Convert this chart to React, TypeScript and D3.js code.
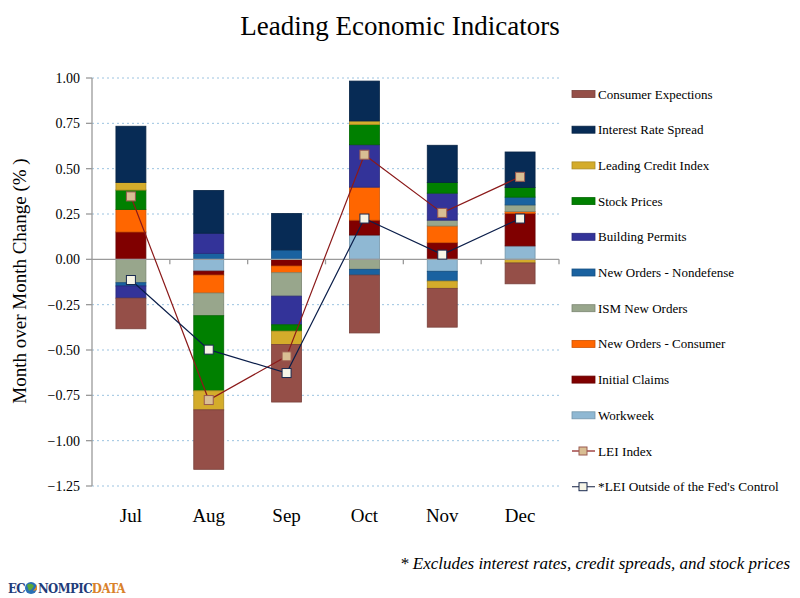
import * as d3 from "d3";

const months = ["Jul", "Aug", "Sep", "Oct", "Nov", "Dec"];

// component contributions, stack order from zero outward
const workweek = [0, -0.065, 0, 0.134, -0.066, 0.074];
const initialClaims = [0.151, -0.022, -0.037, 0.082, 0.092, 0.18];
const newOrdersConsumer = [0.124, -0.099, -0.037, 0.182, 0.092, 0.01];
const ismNewOrders = [-0.129, -0.125, -0.129, -0.055, 0.032, 0.036];
const newOrdersNondefense = [-0.018, 0.033, 0.052, -0.032, -0.054, 0.043];
const buildingPermits = [-0.067, 0.111, -0.158, 0.234, 0.149, 0];
const stockPrices = [0.107, -0.414, -0.035, 0.111, 0.059, 0.053];
const leadingCredit = [0.042, -0.105, -0.074, 0.02, -0.04, -0.02];
const interestRateSpread = [0.31, 0.236, 0.201, 0.22, 0.205, 0.196];
const consumerExpectations = [-0.169, -0.328, -0.317, -0.319, -0.214, -0.115];

const leiIndex = [0.347, -0.776, -0.535, 0.577, 0.256, 0.455];
const leiOutside = [-0.114, -0.498, -0.627, 0.225, 0.026, 0.225];

const yTicks = [1, 0.75, 0.5, 0.25, 0, -0.25, -0.5, -0.75, -1, -1.25];

const series = [
  { key: "workweek", name: "Workweek", values: workweek, color: "#8fb8d3" },
  { key: "initialClaims", name: "Initial Claims", values: initialClaims, color: "#800000" },
  { key: "newOrdersConsumer", name: "New Orders - Consumer", values: newOrdersConsumer, color: "#ff6600" },
  { key: "ismNewOrders", name: "ISM New Orders", values: ismNewOrders, color: "#98a68c" },
  { key: "newOrdersNondefense", name: "New Orders - Nondefense", values: newOrdersNondefense, color: "#1a62a0" },
  { key: "buildingPermits", name: "Building Permits", values: buildingPermits, color: "#333399" },
  { key: "stockPrices", name: "Stock Prices", values: stockPrices, color: "#008000" },
  { key: "leadingCredit", name: "Leading Credit Index", values: leadingCredit, color: "#d4ac2b" },
  { key: "interestRateSpread", name: "Interest Rate Spread", values: interestRateSpread, color: "#072b55" },
  { key: "consumerExpectations", name: "Consumer Expections", values: consumerExpectations, color: "#954f48" },
];

const FONT = "'Liberation Serif', 'DejaVu Serif', serif";

export default function App() {
  const width = 800;
  const height = 598;

  const x = d3
    .scaleBand<string>()
    .domain(months)
    .range([92, 559])
    .paddingInner(0.615)
    .paddingOuter(0.3075);

  const y = d3.scaleLinear().domain([-1.25, 1]).range([486, 78]);

  const rows = months.map((m, i) => {
    const r: Record<string, any> = { month: m };
    series.forEach((s) => (r[s.key] = s.values[i]));
    return r;
  });

  const stacked = d3
    .stack<Record<string, any>>()
    .keys(series.map((s) => s.key))
    .offset(d3.stackOffsetDiverging)(rows);

  const cx = (m: string) => (x(m) ?? 0) + x.bandwidth() / 2;

  const line = d3
    .line<number>()
    .x((_, i) => cx(months[i]))
    .y((d) => y(d));

  const legendItems = [...series].reverse();
  const legendY = (i: number) => 94 + i * 35.7;

  const boundaries = months.map((m) => (x(m) ?? 0) - (x.step() - x.bandwidth()) / 2).concat([559]);

  return (
    <svg
      width={width}
      height={height}
      style={{ position: "absolute", left: 0, top: 0, background: "#fff" }}
      fontFamily={FONT}
    >
      <rect width={width} height={height} fill="#fff" />
      <text x={400} y={35} textAnchor="middle" fontSize={27} fill="#000">
        Leading Economic Indicators
      </text>

      {/* gridlines */}
      {yTicks
        .filter((t) => t !== 0)
        .map((t) => (
          <line
            key={t}
            x1={92}
            x2={559}
            y1={y(t)}
            y2={y(t)}
            stroke="#9cc3e0"
            strokeDasharray="2,3"
            strokeWidth={1}
          />
        ))}

      {/* y axis */}
      <line x1={92} x2={92} y1={y(1)} y2={y(-1.25)} stroke="#9a9a9a" strokeWidth={1.3} />
      {yTicks.map((t) => (
        <g key={t}>
          <line x1={86} x2={92} y1={y(t)} y2={y(t)} stroke="#9a9a9a" strokeWidth={1.3} />
          <text x={80} y={y(t)} dy="0.35em" textAnchor="end" fontSize={14} fill="#000">
            {d3.format(".2f")(t)}
          </text>
        </g>
      ))}
      <text
        transform={`translate(26,281) rotate(-90)`}
        textAnchor="middle"
        fontSize={19}
        fill="#000"
      >
        Month over Month Change (% )
      </text>

      {/* bars */}
      {stacked.map((layer, li) => (
        <g key={layer.key} fill={series[li].color} stroke={d3.color(series[li].color)!.darker(0.6).formatHex()}>
          {layer.map((d, i) =>
            d[1] - d[0] === 0 ? null : (
              <rect
                key={i}
                x={x(months[i])}
                width={x.bandwidth()}
                y={y(d[1])}
                height={y(d[0]) - y(d[1])}
                strokeWidth={0.8}
              />
            )
          )}
        </g>
      ))}

      {/* zero axis */}
      <line x1={92} x2={559} y1={y(0)} y2={y(0)} stroke="#9a9a9a" strokeWidth={1.3} />
      {boundaries.slice(1).map((b, i) => (
        <line key={i} x1={b} x2={b} y1={y(0)} y2={y(0) + 5} stroke="#9a9a9a" strokeWidth={1.3} />
      ))}

      {/* month labels */}
      {months.map((m) => (
        <text key={m} x={cx(m)} y={522} textAnchor="middle" fontSize={19} fill="#000">
          {m}
        </text>
      ))}

      {/* LEI lines */}
      <path d={line(leiIndex) ?? ""} fill="none" stroke="#8b1a1a" strokeWidth={1.2} />
      <path d={line(leiOutside) ?? ""} fill="none" stroke="#0b1e4a" strokeWidth={1.2} />
      {leiIndex.map((v, i) => (
        <rect
          key={"a" + i}
          x={cx(months[i]) - 4.5}
          y={y(v) - 4.5}
          width={9}
          height={9}
          fill="#d9be93"
          stroke="#9a5a50"
          strokeWidth={1}
        />
      ))}
      {leiOutside.map((v, i) => (
        <rect
          key={"b" + i}
          x={cx(months[i]) - 4.5}
          y={y(v) - 4.5}
          width={9}
          height={9}
          fill="#f7f5e6"
          stroke="#1a2a50"
          strokeWidth={1}
        />
      ))}

      {/* legend */}
      {legendItems.map((s, i) => (
        <g key={s.key} transform={`translate(572,${legendY(i)})`}>
          <rect
            x={0}
            y={-3.5}
            width={23}
            height={7}
            fill={s.color}
            stroke={d3.color(s.color)!.darker(0.6).formatHex()}
            strokeWidth={0.8}
          />
          <text x={26} y={0} dy="0.35em" fontSize={13} fill="#000">
            {s.name}
          </text>
        </g>
      ))}
      {[
        { name: "LEI Index", line: "#8b1a1a", fill: "#d9be93", stroke: "#9a5a50" },
        { name: "*LEI Outside of the Fed's Control", line: "#3a4560", fill: "#f7f5e6", stroke: "#1a2a50" },
      ].map((l, j) => (
        <g key={l.name} transform={`translate(572,${legendY(series.length + j)})`}>
          <line x1={0} x2={23} y1={0} y2={0} stroke={l.line} strokeWidth={1.2} />
          <rect x={7} y={-4} width={8} height={8} fill={l.fill} stroke={l.stroke} strokeWidth={1} />
          <text x={26} y={0} dy="0.35em" fontSize={13.3} fill="#000">
            {l.name}
          </text>
        </g>
      ))}

      {/* footnote */}
      <text x={790} y={569} textAnchor="end" fontSize={17} fontStyle="italic" fill="#000">
        * Excludes interest rates, credit spreads, and stock prices
      </text>

      {/* logo */}
      <circle cx={31} cy={588} r={6} fill="#2a6fb5" />
      <path d="M27,585 Q31,582 34,586 Q32,590 29,591 Z" fill="#5aa83a" />
      <path d="M33,591 Q36,588 37,584 L37,590 Z" fill="#e08a2a" />
      <text
        x={8}
        y={593}
        fontFamily="'DejaVu Serif Condensed', 'DejaVu Serif', serif"
        fontWeight="bold"
        fontSize={13}
        letterSpacing={-0.6}
      >
        <tspan fill="#1f3c7a">EC</tspan>
        <tspan fill="#1f3c7a" dx={13}>NOMPIC</tspan>
        <tspan fill="#d9822b">DATA</tspan>
      </text>
    </svg>
  );
}
